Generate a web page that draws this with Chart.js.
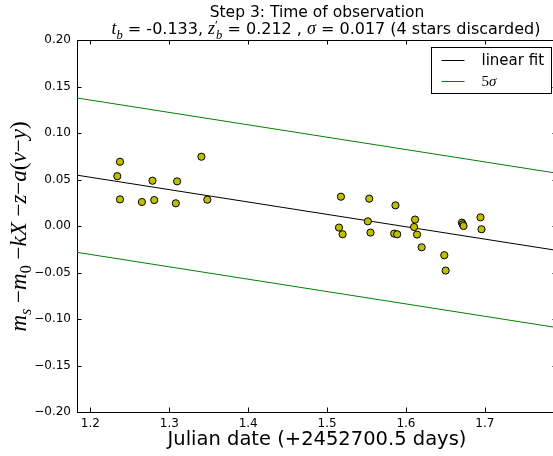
<!DOCTYPE html>
<html>
<head>
<meta charset="utf-8">
<style>
  html, body { margin: 0; padding: 0; overflow: hidden; background: #fff; }
  #wrap { width: 562px; height: 456px; }
</style>
<script src="https://cdn.jsdelivr.net/npm/chart.js@4/dist/chart.umd.min.js"></script>
</head>
<body>
<div id="wrap"><canvas id="c" width="562" height="456"></canvas></div>
<script>
// Observation times (Julian date offset) and photometric residuals per star
const julianDate = [
  1.2375, 1.2341, 1.2375, 1.2653, 1.2787, 1.2809, 1.3083, 1.3099, 1.3407, 1.3482,
  1.5176, 1.5151, 1.5197, 1.5535, 1.5517, 1.5551, 1.5867, 1.5851, 1.5889, 1.6116,
  1.6103, 1.6141, 1.6199, 1.6486, 1.6503, 1.6710, 1.6720, 1.6730, 1.6945, 1.6958
];
const residual = [
  0.0691, 0.0536, 0.0286, 0.0258, 0.0487, 0.0279, 0.0244, 0.0480, 0.0745, 0.0283,
  0.0315, -0.0017, -0.0089, 0.0294, 0.0050, -0.0071, 0.0222, -0.0082, -0.0089, 0.0069,
  -0.0011, -0.0092, -0.0229, -0.0314, -0.0479, 0.0036, 0.0018, 0.0000, 0.0093, -0.0035
];

// Linear fit parameters: residual = zb + tb * date, band = +/- 5 sigma
const fitSlope = -0.133;   // t_b
const fitZero = 0.212;     // z'_b
const fitSigma = 0.0166;   // sigma
const bandWidth = 5;       // band in units of sigma
const starsDiscarded = 4;

const xTicks = [1.2, 1.3, 1.4, 1.5, 1.6, 1.7];
const yTicks = [-0.20, -0.15, -0.10, -0.05, 0.00, 0.05, 0.10, 0.15, 0.20];
const xRange = [1.183, 1.7915];
const yRange = [-0.20, 0.20];

const SANS = '"DejaVu Sans", sans-serif';
const MATH = '"Liberation Serif", "DejaVu Serif", serif';

const fitAt = (x, k) => fitZero + fitSlope * x + k * bandWidth * fitSigma;
const lineData = k => xRange.map(x => ({ x: x, y: fitAt(x, k) }));

const points = julianDate.map((x, i) => ({ x: x, y: residual[i] }));

// Mixed-font text runs: [text, kind, shift, advance]
// kind: 's' sans, 'i' math italic, 'r' math roman; shift moves the run down (sub) or up (sup)
function runFont(kind, size) {
  if (kind === 's') return size + 'px ' + SANS;
  if (kind === 'i') return 'italic ' + size + 'px ' + MATH;
  return size + 'px ' + MATH;
}
function drawRuns(ctx, runs, cx, baseY, sansSize, mathSize) {
  const parts = runs.map(r => {
    const shift = r[2] || 0;
    const base = r[1] === 's' ? sansSize : mathSize;
    const s = shift ? base * 0.7 : base;
    ctx.font = runFont(r[1], s);
    return { t: r[0], font: ctx.font, w: ctx.measureText(r[0]).width, dy: shift * base, adv: r[3] === undefined ? 1 : r[3] };
  });
  const total = parts.reduce((a, p) => a + p.w * p.adv, 0);
  let x = cx - total / 2;
  ctx.textAlign = 'left';
  ctx.textBaseline = 'alphabetic';
  parts.forEach(p => {
    ctx.font = p.font;
    ctx.fillText(p.t, x, baseY + p.dy);
    x += p.w * p.adv;
  });
}

const decorations = {
  id: 'decorations',
  afterDraw(chart) {
    const ctx = chart.ctx;
    const a = chart.chartArea;
    const xs = chart.scales.x, ys = chart.scales.y;
    ctx.save();
    ctx.strokeStyle = '#000';
    ctx.fillStyle = '#000';
    ctx.lineWidth = 1;

    // top spine
    ctx.beginPath();
    ctx.moveTo(a.left, Math.round(a.top) + 0.5);
    ctx.lineTo(a.right, Math.round(a.top) + 0.5);
    ctx.stroke();

    // inward tick marks
    const tl = 4.5;
    ctx.beginPath();
    xTicks.forEach(v => {
      const px = Math.round(xs.getPixelForValue(v)) + 0.5;
      ctx.moveTo(px, a.bottom); ctx.lineTo(px, a.bottom - tl);
      ctx.moveTo(px, a.top); ctx.lineTo(px, a.top + tl);
    });
    yTicks.forEach(v => {
      const py = Math.round(ys.getPixelForValue(v)) + 0.5;
      ctx.moveTo(a.left, py); ctx.lineTo(a.left + tl, py);
      ctx.moveTo(a.right, py); ctx.lineTo(a.right - tl, py);
    });
    ctx.stroke();

    // title
    ctx.font = '15.5px ' + SANS;
    ctx.textAlign = 'center';
    ctx.textBaseline = 'alphabetic';
    const cx = (a.left + a.right) / 2;
    ctx.fillText('Step 3: Time of observation', cx, 17);
    drawRuns(ctx, [
      ['t', 'i'], ['b', 'i', 0.25],
      [' = ' + fitSlope.toFixed(3) + ', ', 's'],
      ['z', 'i'], ['\u2032', 'r', -0.3, 0.35], ['b', 'i', 0.25],
      [' = ' + fitZero.toFixed(3) + ' , ', 's'],
      ['\u03c3', 'i'],
      [' = ' + fitSigma.toFixed(3) + ' (' + starsDiscarded + ' stars discarded)', 's']
    ], cx + 9, 34, 16, 18);

    // y axis label, rotated
    ctx.save();
    ctx.translate(26, 226.5);
    ctx.rotate(-Math.PI / 2);
    drawRuns(ctx, [
      ['m', 'i'], ['s', 'i', 0.22], [' \u2212', 'r'],
      ['m', 'i'], ['0', 'r', 0.22], [' \u2212', 'r'],
      ['kX', 'i'], [' \u2212', 'r'], ['z', 'i'], ['\u2212', 'r'],
      ['a', 'i'], ['(', 'r'], ['v', 'i'], ['\u2212', 'r'], ['y', 'i'], [')', 'r']
    ], 0, 0, 23, 23);
    ctx.restore();

    // legend
    const lx = 431.5, ly = 47.5, lw = 120, lh = 46;
    ctx.fillStyle = '#fff';
    ctx.fillRect(lx, ly, lw, lh);
    ctx.strokeStyle = '#000';
    ctx.strokeRect(lx, ly, lw, lh);
    const entries = chart.data.datasets.filter(d => d.legendLabel);
    entries.forEach((d, i) => {
      const y = 60 + i * 21;
      ctx.strokeStyle = d.borderColor;
      ctx.beginPath();
      ctx.moveTo(441.5, y + 0.5); ctx.lineTo(464.5, y + 0.5);
      ctx.stroke();
      ctx.fillStyle = '#000';
      ctx.textAlign = 'left';
      ctx.textBaseline = 'alphabetic';
      if (d.legendLabel === 'sigma') {
        ctx.font = '15px ' + MATH;
        ctx.fillText(String(bandWidth), 481.5, y + 5);
        const w = ctx.measureText(String(bandWidth)).width;
        ctx.font = 'italic 15px ' + MATH;
        ctx.fillText('\u03c3', 481.5 + w, y + 5);
      } else {
        ctx.font = '15px ' + SANS;
        ctx.fillText(d.legendLabel, 481.5, y + 5);
      }
    });
    ctx.restore();
  }
};

new Chart(document.getElementById('c'), {
  type: 'scatter',
  data: {
    datasets: [
      {
        label: 'stars',
        data: points,
        order: 0,
        pointRadius: 3.6,
        pointBackgroundColor: '#bfbf00',
        pointBorderColor: '#000',
        pointBorderWidth: 1
      },
      {
        type: 'line',
        label: 'linear fit',
        legendLabel: 'linear fit',
        data: lineData(0),
        order: 1,
        borderColor: '#000',
        borderWidth: 1,
        pointRadius: 0,
        fill: false
      },
      {
        type: 'line',
        label: '5 sigma (upper)',
        legendLabel: 'sigma',
        data: lineData(1),
        order: 2,
        borderColor: '#008000',
        borderWidth: 1,
        pointRadius: 0,
        fill: false
      },
      {
        type: 'line',
        label: '5 sigma (lower)',
        data: lineData(-1),
        order: 2,
        borderColor: '#008000',
        borderWidth: 1,
        pointRadius: 0,
        fill: false
      }
    ]
  },
  options: {
    responsive: false,
    animation: false,
    devicePixelRatio: 1,
    layout: { padding: { top: 40, right: 3, left: 0, bottom: 0 } },
    plugins: {
      legend: { display: false },
      title: { display: false },
      tooltip: { enabled: false }
    },
    scales: {
      x: {
        type: 'linear',
        min: xRange[0],
        max: xRange[1],
        afterBuildTicks(s) { s.ticks = xTicks.map(v => ({ value: v })); },
        afterFit(s) { s.height = 44; },
        grid: { display: false, drawTicks: false },
        border: { display: true, color: '#000', width: 1 },
        ticks: {
          color: '#000',
          font: { family: SANS, size: 12 },
          padding: 5,
          maxRotation: 0,
          callback: v => v.toFixed(1)
        },
        title: {
          display: true,
          text: 'Julian date (+2452700.5 days)',
          color: '#000',
          font: { family: SANS, size: 19.5 },
          padding: { top: 0, bottom: 4 }
        }
      },
      y: {
        type: 'linear',
        min: yRange[0],
        max: yRange[1],
        afterBuildTicks(s) { s.ticks = yTicks.map(v => ({ value: v })); },
        afterFit(s) { s.width = 77; },
        grid: { display: false, drawTicks: false },
        border: { display: true, color: '#000', width: 1 },
        ticks: {
          color: '#000',
          font: { family: SANS, size: 12 },
          padding: 6,
          callback: v => v.toFixed(2).replace('-', '\u2212')
        }
      }
    }
  },
  plugins: [decorations]
});
</script>
</body>
</html>
